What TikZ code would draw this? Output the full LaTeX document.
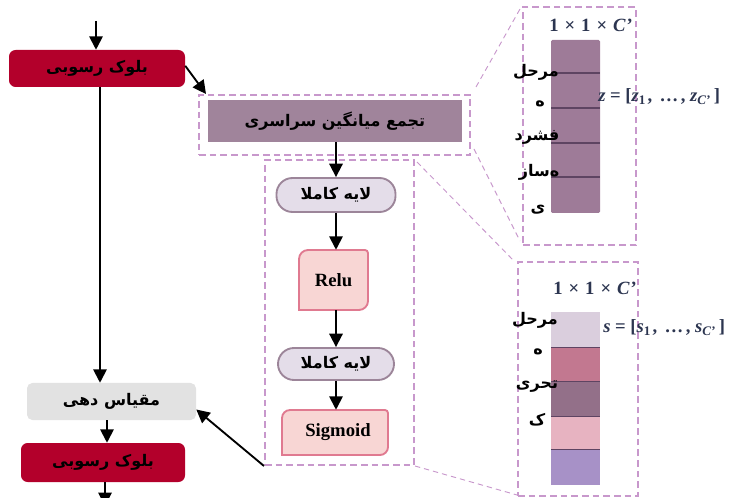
\documentclass[tikz,border=0pt]{standalone}
\usepackage{fontspec}
\setmainfont{Liberation Serif}
\newfontfamily\fa[Script=Arabic]{DejaVu Sans}
\TeXXeTstate=1
\usetikzlibrary{arrows.meta}
\newdimen\pxu \pxu=0.75pt
\newcommand\artx[1]{{\fa\bfseries\beginR #1\endR}}
\newcommand\vsub[1]{\textsubscript{#1}}
\definecolor{crim}{HTML}{B3002B}
\definecolor{poolc}{HTML}{A0849B}
\definecolor{dashc}{HTML}{C898CC}
\definecolor{fcfill}{HTML}{E4DDE9}
\definecolor{fcdraw}{HTML}{9C8599}
\definecolor{pkfill}{HTML}{F8D6D4}
\definecolor{pkdraw}{HTML}{E07A90}
\definecolor{scalec}{HTML}{E2E2E2}
\definecolor{colA}{HTML}{9E7B98}
\definecolor{colLine}{HTML}{5E4462}
\definecolor{eqc}{HTML}{2C3550}
\definecolor{c1}{HTML}{DACEDD}
\definecolor{c2}{HTML}{C27890}
\definecolor{c3}{HTML}{937089}
\definecolor{c4}{HTML}{E7B3C1}
\definecolor{c5}{HTML}{A791C7}
\tikzset{
  arr/.style={line width=1.4pt,-{Triangle[width=10pt,length=10pt]}},
  dbox/.style={draw=dashc,line width=1.5pt,dash pattern=on 5pt off 3pt,inner sep=0pt},
  zl/.style={draw=dashc,line width=0.7pt,dash pattern=on 4pt off 3pt},
  blk/.style={fill=crim,rounded corners=5pt,inner sep=0pt,font=\fontsize{12}{14}\selectfont},
  fcbox/.style={fill=fcfill,draw=fcdraw,line width=1.4pt,rounded corners=12pt,inner sep=0pt,font=\fontsize{12}{14}\selectfont},
  cardst/.style={fill=pkfill,draw=pkdraw,line width=1.4pt},
  latb/.style={inner sep=0pt,font=\fontsize{14}{16}\selectfont\bfseries},
  artxt/.style={inner sep=0pt,font=\fontsize{12}{14}\selectfont},
  dimlab/.style={inner sep=0pt,text=eqc,font=\fontsize{14}{16}\selectfont\bfseries},
  eqlab/.style={inner sep=0pt,text=eqc,font=\fontsize{14}{16}\selectfont\bfseries},
}
\begin{document}
\begin{tikzpicture}[x=0.75pt,y=-0.75pt]
\path[use as bounding box] (0,0) rectangle (738,498);

% left column
\node[blk,minimum width=176\pxu,minimum height=37\pxu] (blk1) at (97,68.5) {\artx{بلوک رسوبی}};
\node[fill=scalec,rounded corners=4pt,inner sep=0pt,font=\fontsize{12}{14}\selectfont,minimum width=169\pxu,minimum height=37\pxu] (scale) at (111.5,401.5) {\artx{مقیاس دهی}};
\node[blk,minimum width=164\pxu,minimum height=39\pxu] (blk2) at (103,462.5) {\artx{بلوک رسوبی}};

% pooling
\node[dbox,minimum width=271\pxu,minimum height=60\pxu] (pool) at (334.5,125) {};
\node[fill=poolc,inner sep=0pt,font=\fontsize{12}{14}\selectfont,minimum width=254\pxu,minimum height=42\pxu] (poolin) at (335,121) {\artx{تجمع میانگین سراسری}};

% inner stack
\node[dbox,minimum width=149\pxu,minimum height=305\pxu] (inner) at (339.5,312.5) {};
\node[fcbox,minimum width=119\pxu,minimum height=34\pxu] (fc1) at (336,195) {\artx{لایه کاملا}};
\draw[cardst] (299,310) -- (299,259) arc[start angle=180,end angle=90,radius=6.75pt] -- (365,250) arc[start angle=90,end angle=0,radius=2.25pt] -- (368,301) arc[start angle=0,end angle=-90,radius=6.75pt] -- cycle;
\node[latb,minimum width=69\pxu,minimum height=60\pxu] (relu) at (333.5,280) {Relu};
\node[fcbox,minimum width=116\pxu,minimum height=32\pxu] (fc2) at (336,364) {\artx{لایه کاملا}};
\draw[cardst] (282,455) -- (282,418) arc[start angle=180,end angle=90,radius=6pt] -- (385,410) arc[start angle=90,end angle=0,radius=2.25pt] -- (388,447) arc[start angle=0,end angle=-90,radius=6pt] -- cycle;
\node[latb,minimum width=106\pxu,minimum height=45\pxu] (sig) at (338,432.5) {Sigmoid};

% right boxes
\node[dbox,minimum width=113\pxu,minimum height=238\pxu] (rb1) at (579.5,126) {};
\node[dbox,minimum width=120\pxu,minimum height=234\pxu] (rb2) at (578,379) {};

% column 1
\fill[colA,rounded corners=1pt] (551,40) rectangle (600,213);
\foreach \yy in {73,108,143,177} \draw[colLine,line width=0.8pt] (551,\yy) -- (600,\yy);
\node[dimlab] (d1) at (591,25) {1\kern4.5pt×\kern4.5pt1\kern4.5pt×\kern4.5pt\textit{C}\kern0.5pt'};
\node[eqlab,anchor=west] (eq1) at (598,97) {\textit{z} = [\textit{z}\vsub{1}\kern1pt, \kern2pt…\kern2pt, \textit{z}\vsub{\textit{C}'}\kern2pt]};
\node[artxt] (a1) at (536,72) {\artx{مرحل}};
\node[artxt] (a2) at (540,104) {\artx{ه}};
\node[artxt] (a3) at (537,137) {\artx{فشرد}};
\node[artxt] (a4) at (539,172) {\artx{ەساز}};
\node[artxt] (a5) at (538,210) {\artx{ی}};

% column 2
\fill[c1] (551,312) rectangle (600,347);
\fill[c2] (551,347) rectangle (600,381);
\fill[c3] (551,381) rectangle (600,416);
\fill[c4] (551,416) rectangle (600,449);
\fill[c5] (551,449) rectangle (600,485);
\foreach \yy in {347,381,416,449} \draw[colLine,line width=0.6pt] (551,\yy) -- (600,\yy);
\node[dimlab] (d2) at (595,288) {1\kern4.5pt×\kern4.5pt1\kern4.5pt×\kern4.5pt\textit{C}\kern0.5pt'};
\node[eqlab,anchor=west] (eq2) at (603,328) {\textit{s} = [\textit{s}\vsub{1}\kern1pt, \kern2pt…\kern2pt, \textit{s}\vsub{\textit{C}'}\kern2pt]};
\node[artxt] (b1) at (535,320) {\artx{مرحل}};
\node[artxt] (b2) at (538,352) {\artx{ه}};
\node[artxt] (b3) at (537,387) {\artx{تحری}};
\node[artxt] (b4) at (537,420) {\artx{ک}};

% guide lines
\draw[zl] ([shift={(5,-7)}]pool.north east) -- ([shift={(-2,3)}]rb1.north west);
\draw[zl] ([shift={(3,-7)}]pool.south east) -- ([shift={(-2,-5)}]rb1.south west);
\draw[zl] ([shift={(2,3)}]inner.north east) -- ([shift={(-3,0)}]rb2.north west);
\draw[zl] (inner.south east) -- ([shift={(0,-2)}]rb2.south west);

% arrows
\coordinate (topin) at (96,21);
\draw[arr] (topin) -- (blk1.north -| topin);
\coordinate (lx) at (100,0);
\draw[arr] (blk1.south -| lx) -- (scale.north -| lx);
\coordinate (pooltip) at (206,94);
\draw[arr] ([yshift=2pt]blk1.east) -- (pooltip);
\draw[arr] (poolin.south -| fc1) -- (fc1.north);
\draw[arr] (fc1.south) -- (fc1.south |- relu.north);
\draw[arr] (relu.south -| fc1) -- (fc2.north);
\draw[arr] (fc2.south) -- (fc2.south |- sig.north);
\draw[arr] (inner.south west) -- ([yshift=-6pt]scale.east);
\coordinate (sx) at (107,0);
\draw[arr] (scale.south -| sx) -- (blk2.north -| sx);
\coordinate (botout) at (105,506);
\draw[arr] (blk2.south -| botout) -- (botout);
\end{tikzpicture}
\end{document}
